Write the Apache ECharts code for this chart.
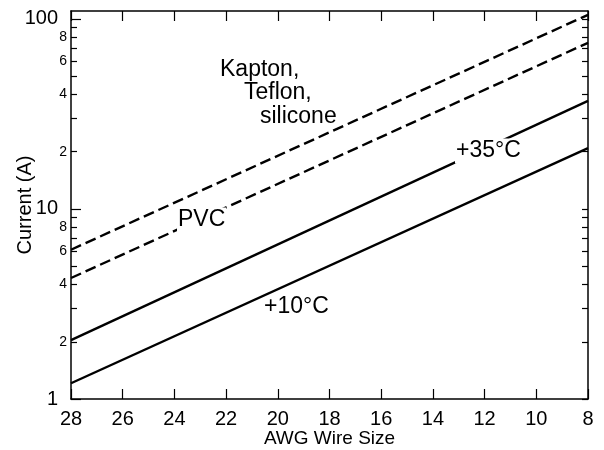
<!DOCTYPE html>
<html>
<head>
<meta charset="utf-8">
<script src="https://cdn.jsdelivr.net/npm/echarts@6/dist/echarts.min.js"></script>
<style>
html,body{margin:0;padding:0;background:#fff;}
#c{width:604px;height:450px;}
</style>
</head>
<body>
<div id="c"></div>
<script>
// ---- data ----
const awg = [28, 8];
const kaptonTeflonSilicone = [6.1, 105];
const pvc = [4.33, 74.8];
const plus35C = [2.04, 37];
const plus10C = [1.21, 20.9];
const yLabelValues = [1, 2, 4, 6, 8, 10, 20, 40, 60, 80, 100];
const yMajorTicks = [1, 10, 100];
const yMinorTicks = [2, 3, 4, 5, 6, 7, 8, 9, 20, 30, 40, 50, 60, 70, 80, 90];
const annotations = [
  { text: 'Kapton,', x: 220, y: 70, mask: false },
  { text: 'Teflon,', x: 244, y: 93, mask: false },
  { text: 'silicone', x: 260, y: 117, mask: false },
  { text: 'PVC', x: 177, y: 220, mask: true },
  { text: '+35°C', x: 455, y: 151, mask: true },
  { text: '+10°C', x: 264, y: 307, mask: false }
];

const FONT = '"Liberation Sans", Arial, Helvetica, sans-serif';
const BLACK = '#000';

function pairs(ys) { return awg.map((x, i) => [x, ys[i]]); }

function yFormatter(v) {
  const e = Math.floor(Math.log10(v) + 1e-9);
  const m = Math.round(v / Math.pow(10, e));
  if (m === 1) return '{big|' + Math.round(v) + '}';
  return '{small|' + m + '}';
}

const baseY = {
  type: 'log', logBase: 10, min: 1, max: 110,
  splitLine: { show: false }, minorTick: { show: false }
};
const baseX = {
  type: 'value', min: 8, max: 28, interval: 2, inverse: true,
  splitLine: { show: false }
};

const chart = echarts.init(document.getElementById('c'), null, { renderer: 'canvas' });
const option = {
  animation: false,
  backgroundColor: '#fff',
  textStyle: { fontFamily: FONT, color: BLACK },
  grid: { left: 71, right: 16, top: 11, bottom: 51, containLabel: false, outerBoundsMode: 'none' },
  xAxis: [
    Object.assign({}, baseX, {
      position: 'bottom',
      name: 'AWG Wire Size', nameLocation: 'middle', nameGap: 30, nameMoveOverlap: false,
      nameTextStyle: { fontSize: 19, color: BLACK, fontFamily: FONT },
      axisLine: { show: true, lineStyle: { color: BLACK, width: 1.5 } },
      axisTick: { show: true, inside: true, length: 10, lineStyle: { color: BLACK, width: 1.2 } },
      axisLabel: { show: true, fontSize: 20, margin: 10, color: BLACK, fontFamily: FONT }
    }),
    Object.assign({}, baseX, {
      position: 'top',
      axisLine: { show: true, lineStyle: { color: BLACK, width: 1.5 } },
      axisTick: { show: true, inside: true, length: 10, lineStyle: { color: BLACK, width: 1.2 } },
      axisLabel: { show: false }
    })
  ],
  yAxis: [
    Object.assign({}, baseY, {
      position: 'left',
      name: 'Current (A)', nameLocation: 'middle', nameRotate: 90, nameGap: 36, nameMoveOverlap: false,
      nameTextStyle: { fontSize: 20, color: BLACK, fontFamily: FONT },
      axisLine: { show: true, lineStyle: { color: BLACK, width: 1.5 } },
      axisTick: { show: true, inside: true, length: 10, customValues: yMajorTicks, lineStyle: { color: BLACK, width: 1.2 } },
      axisLabel: {
        show: true, margin: 4, customValues: yLabelValues, formatter: yFormatter,
        color: BLACK, fontFamily: FONT,
        rich: {
          big: { fontSize: 20, color: BLACK, fontFamily: FONT, padding: [0, 9, 0, 0] },
          small: { fontSize: 14, color: BLACK, fontFamily: FONT }
        }
      }
    }),
    Object.assign({}, baseY, {
      position: 'left',
      axisLine: { show: false },
      axisTick: { show: true, inside: true, length: 6, customValues: yMinorTicks, lineStyle: { color: BLACK, width: 1.2 } },
      axisLabel: { show: false }
    }),
    Object.assign({}, baseY, {
      position: 'right',
      axisLine: { show: true, lineStyle: { color: BLACK, width: 1.5 } },
      axisTick: { show: true, inside: true, length: 6, customValues: yMajorTicks.concat(yMinorTicks), lineStyle: { color: BLACK, width: 1.2 } },
      axisLabel: { show: false }
    })
  ],
  series: [
    { name: 'Kapton, Teflon, silicone', type: 'line', data: pairs(kaptonTeflonSilicone), symbol: 'none',
      lineStyle: { color: BLACK, width: 2.4, type: [11, 5] } },
    { name: 'PVC', type: 'line', data: pairs(pvc), symbol: 'none',
      lineStyle: { color: BLACK, width: 2.4, type: [11, 5] } },
    { name: '+35°C', type: 'line', data: pairs(plus35C), symbol: 'none',
      lineStyle: { color: BLACK, width: 2.4, type: 'solid' } },
    { name: '+10°C', type: 'line', data: pairs(plus10C), symbol: 'none',
      lineStyle: { color: BLACK, width: 2.4, type: 'solid' } }
  ],
  graphic: annotations.map(a => ({
    type: 'text', z: 100, x: a.x, y: a.y,
    style: Object.assign({
      text: a.text, fontSize: 23, fontFamily: FONT, fill: BLACK,
      align: 'left', verticalAlign: 'middle', textAlign: 'left', textVerticalAlign: 'middle'
    }, a.mask ? { backgroundColor: '#fff', padding: [1, 1] } : {})
  }))
};
chart.setOption(option);
</script>
</body>
</html>
